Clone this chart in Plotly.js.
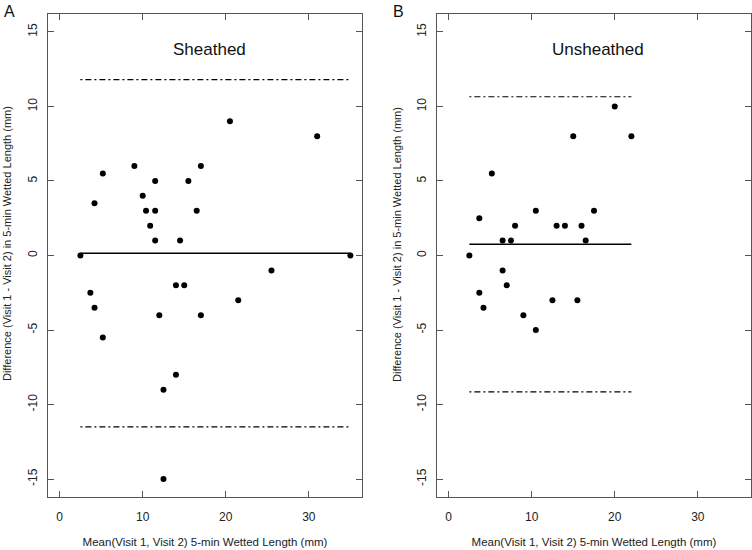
<!DOCTYPE html>
<html>
<head>
<meta charset="utf-8">
<script src="https://cdn.plot.ly/plotly-3.0.1.min.js"></script>
<style>html,body{margin:0;padding:0;background:#fff;}#chart{width:752px;height:550px;}</style>
</head>
<body>
<div id="chart"></div>
<script>
// Panel A: Sheathed
const sheathedMean = [2.5, 35, 20.5, 31, 5.2, 9, 17, 4.2, 11.5, 15.5, 10, 10.4, 11.5, 16.5, 10.9, 11.5, 14.5, 25.5, 3.7, 4.2, 5.2, 14, 15, 21.5, 12, 17, 14, 12.5, 12.5];
const sheathedDiff = [0, 0, 9, 8, 5.5, 6, 6, 3.5, 5, 5, 4, 3, 3, 3, 2, 1, 1, -1, -2.5, -3.5, -5.5, -2, -2, -3, -4, -4, -8, -9, -15];
const sheathedSpan = [2.5, 35];
const sheathedBias = 0.15;
const sheathedUpper = 11.8;
const sheathedLower = -11.5;

// Panel B: Unsheathed
const unsheathedMean = [2.5, 20, 15, 22, 5.2, 3.7, 10.5, 17.5, 8, 13, 14, 16, 6.5, 7.5, 16.5, 6.5, 3.7, 7, 4.2, 12.5, 15.5, 9, 10.5];
const unsheathedDiff = [0, 10, 8, 8, 5.5, 2.5, 3, 3, 2, 2, 2, 2, 1, 1, 1, -1, -2.5, -2, -3.5, -3, -3, -4, -5];
const unsheathedSpan = [2.5, 22];
const unsheathedBias = 0.75;
const unsheathedUpper = 10.65;
const unsheathedLower = -9.15;

const panelTitles = ["Sheathed", "Unsheathed"];
const panelLetters = ["A", "B"];
const xTitle = "Mean(Visit 1, Visit 2) 5-min Wetted Length (mm)";
const yTitle = "Difference (Visit 1 - Visit 2) in 5-min Wetted Length (mm)";
const xTicks = [0, 10, 20, 30];
const yTicks = [-15, -10, -5, 0, 5, 10, 15];

const FONT = "Liberation Sans, Arial, sans-serif";
const dashPattern = "2px,3px,6px,3px";

function panel(xs, ys, span, bias, up, lo, xa, ya) {
  return [
    {x: xs, y: ys, xaxis: xa, yaxis: ya, type: "scatter", mode: "markers",
     marker: {color: "#000", size: 6}, showlegend: false, hoverinfo: "x+y"},
    {x: span, y: [bias, bias], xaxis: xa, yaxis: ya, type: "scatter", mode: "lines",
     line: {color: "#000", width: 1.5}, showlegend: false},
    {x: span, y: [up, up], xaxis: xa, yaxis: ya, type: "scatter", mode: "lines",
     line: {color: "#000", width: 1.2, dash: dashPattern}, showlegend: false},
    {x: span, y: [lo, lo], xaxis: xa, yaxis: ya, type: "scatter", mode: "lines",
     line: {color: "#000", width: 1.2, dash: dashPattern}, showlegend: false}
  ];
}

const data = [].concat(
  panel(sheathedMean, sheathedDiff, sheathedSpan, sheathedBias, sheathedUpper, sheathedLower, "x", "y"),
  panel(unsheathedMean, unsheathedDiff, unsheathedSpan, unsheathedBias, unsheathedUpper, unsheathedLower, "x2", "y2")
);

function xaxis(domain, anchor) {
  return {
    domain: domain, anchor: anchor, range: [-1.4, 36.4],
    tickvals: xTicks, ticktext: xTicks.map(String),
    ticks: "inside", ticklen: 6, tickcolor: "#555", tickwidth: 1,
    showline: true, linecolor: "#555", linewidth: 1, mirror: "ticks",
    showgrid: false, zeroline: false, ticklabelstandoff: 9,
    tickfont: {family: FONT, size: 12, color: "#222"},
    title: {text: xTitle, font: {family: FONT, size: 11.5, color: "#222"}, standoff: 14}
  };
}
function yaxis(anchor) {
  return {
    domain: [0, 1], anchor: anchor, range: [-16.2, 16.2],
    tickvals: yTicks, ticktext: yTicks.map(String), tickangle: -90,
    ticks: "inside", ticklen: 6, tickcolor: "#555", tickwidth: 1,
    showline: true, linecolor: "#555", linewidth: 1, mirror: "ticks",
    showgrid: false, zeroline: false, ticklabelstandoff: 5,
    tickfont: {family: FONT, size: 12, color: "#222"}
  };
}

const layout = {
  width: 752, height: 550,
  margin: {l: 48, r: 1, t: 14, b: 53},
  paper_bgcolor: "#fff", plot_bgcolor: "#fff",
  font: {family: FONT, color: "#222"},
  xaxis: xaxis([0, 0.4467], "y"),
  yaxis: yaxis("x"),
  xaxis2: xaxis([0.5533, 1], "y2"),
  yaxis2: yaxis("x2"),
  annotations: [
    {text: panelTitles[0], xref: "x domain", yref: "y domain", x: 0.513, y: 0.9255,
     xanchor: "center", yanchor: "middle", showarrow: false,
     font: {family: FONT, size: 17, color: "#111"}},
    {text: panelTitles[1], xref: "x2 domain", yref: "y2 domain", x: 0.513, y: 0.9255,
     xanchor: "center", yanchor: "middle", showarrow: false,
     font: {family: FONT, size: 17, color: "#111"}},
    {text: yTitle, textangle: -90, xref: "paper", yref: "paper", x: -0.0583, y: 0.5238,
     xanchor: "center", yanchor: "middle", showarrow: false,
     font: {family: FONT, size: 11, color: "#222"}},
    {text: yTitle, textangle: -90, xref: "paper", yref: "paper", x: 0.4964, y: 0.5238,
     xanchor: "center", yanchor: "middle", showarrow: false,
     font: {family: FONT, size: 11, color: "#222"}},
    {text: panelLetters[0], xref: "paper", yref: "paper", x: -0.066, y: 1.027, xanchor: "left", yanchor: "top",
     showarrow: false, font: {family: FONT, size: 16, color: "#111"}},
    {text: panelLetters[1], xref: "paper", yref: "paper", x: 0.488, y: 1.027, xanchor: "left", yanchor: "top",
     showarrow: false, font: {family: FONT, size: 16, color: "#111"}}
  ]
};

Plotly.newPlot("chart", data, layout, {staticPlot: true, displayModeBar: false});
</script>
</body>
</html>
